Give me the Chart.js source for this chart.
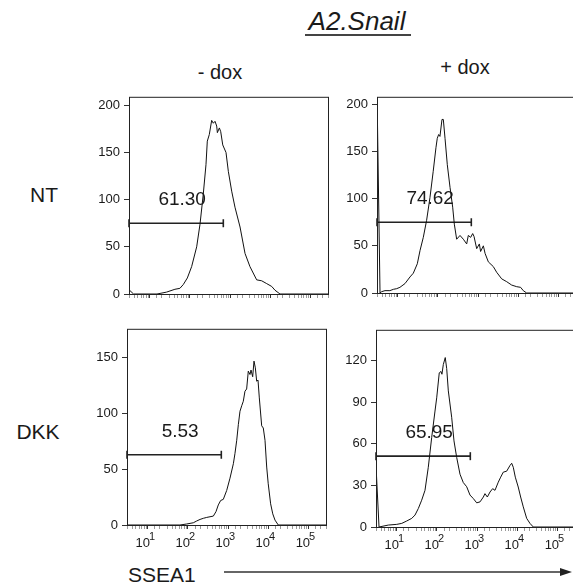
<!DOCTYPE html>
<html>
<head>
<meta charset="utf-8">
<title>A2.Snail SSEA1</title>
<script src="https://cdn.jsdelivr.net/npm/chart.js@4.4.1/dist/chart.umd.min.js"></script>
<style>
  html, body { margin: 0; padding: 0; background: #fff; }
  body {
    width: 573px; height: 588px; position: relative; overflow: hidden;
    font-family: "Liberation Sans", Arial, sans-serif; color: #1a1a1a;
  }
  .lbl { position: absolute; white-space: nowrap; line-height: 1; }
  .c { transform: translateX(-50%); }
  canvas { position: absolute; }
</style>
</head>
<body>

<div class="lbl c" style="left:357px; top:8px; font-size:26px; font-style:italic;">A2.Snail</div>
<div style="position:absolute; left:305px; top:34px; width:106px; height:2px; background:#444;"></div>

<div class="lbl c" id="col0" style="left:220px; top:62px; font-size:20px;"></div>
<div class="lbl c" id="col1" style="left:465px; top:57px; font-size:20px;"></div>
<div class="lbl c" id="row0" style="left:44px; top:184px; font-size:21px;"></div>
<div class="lbl c" id="row1" style="left:38px; top:421px; font-size:21px;"></div>
<div class="lbl" id="xTitle" style="left:128px; top:564px; font-size:21px;"></div>

<svg style="position:absolute; left:220px; top:564px;" width="353" height="16">
  <line x1="4" y1="8" x2="345" y2="8" stroke="#333" stroke-width="1.3"/>
  <polygon points="340,4 352,8 340,12" fill="#222"/>
</svg>

<script>
// ---- data ----
const colLabels = ['- dox', '+ dox'];
const rowLabels = ['NT', 'DKK'];
const axisTitle = 'SSEA1';

// NT, - dox
const ntMinusX = [3.1, 3.9, 15, 26, 42, 56, 68, 86, 110, 147, 178, 215, 251, 271, 304, 348, 383, 422, 465, 483, 542, 586, 658, 794, 908, 1100, 1330, 1780, 2370, 3150, 4630, 6180, 8240, 11000, 13300, 17700, 280000];
const ntMinusY = [4, 0, 0, 2, 5, 6, 10, 17, 29, 50, 74, 106, 137, 162, 169, 184, 181, 183, 178, 171, 176, 172, 158, 150, 130, 109, 92, 71, 43, 29, 15, 14, 11, 8, 4, 0, 0];

// NT, + dox
const ntPlusX = [3.05, 3.57, 3.92, 4.75, 6.3, 7.7, 9.3, 11.2, 15, 20, 24.2, 30.5, 35.6, 43, 52, 63, 76, 89, 96, 104, 112, 126, 136, 150, 171, 200, 233, 256, 293, 355, 430, 521, 572, 656, 736, 794, 927, 1080, 1160, 1360, 1500, 1810, 2410, 2920, 3900, 5200, 6930, 9250, 11600, 13500, 16400, 280000];
const ntPlusY = [194, 0, 1.4, 2.5, 2.5, 3.9, 4.6, 6, 10, 17, 21, 31, 45, 59, 77, 101, 129, 154, 164, 168, 166, 184, 184, 164, 136, 112, 91, 73, 57, 61, 57, 52, 61, 59, 63, 60, 47, 52, 44, 50, 42, 33, 28, 22, 15, 12, 8.4, 6.7, 6, 2.5, 0, 0];

// DKK, - dox
const dkkMinusX = [3, 63, 93, 136, 165, 200, 242, 294, 355, 430, 501, 572, 656, 762, 927, 1120, 1360, 1490, 1650, 1810, 1990, 2200, 2410, 2650, 2920, 3210, 3540, 3750, 4130, 4460, 4810, 5200, 5610, 6050, 6930, 7600, 8390, 9250, 10100, 11600, 13100, 14900, 18000, 280000];
const dkkMinusY = [0, 0, 0.9, 2, 3.6, 5, 6, 6.8, 7.4, 8, 12, 18, 22, 23, 31, 42, 55, 64, 76, 90, 102, 107, 111, 120, 122, 138, 135, 139, 133, 147, 141, 129, 130, 114, 89, 87, 76, 52, 37, 19, 10, 4.4, 0, 0];

// DKK, + dox
const dkkPlusX = [3.05, 3.57, 6.1, 9.9, 13.2, 17.5, 23.4, 28.3, 34.2, 41.5, 50.2, 60.7, 73.8, 89.3, 98.4, 114, 126, 133, 144, 161, 175, 192, 233, 266, 311, 376, 454, 552, 668, 807, 982, 1190, 1440, 1580, 1810, 2110, 2460, 2810, 3400, 3900, 4530, 5500, 6660, 7350, 8050, 9040, 10700, 12300, 14300, 17400, 21000, 25500, 280000];
const dkkPlusY = [40, 0, 1.4, 1.9, 2.6, 4.3, 6.2, 8.6, 13.3, 19.3, 26.4, 43, 64.5, 83.5, 93, 111, 112, 110, 117, 122, 114, 98, 79, 62, 50, 38, 32, 29, 23, 20.5, 17.4, 18.1, 21.6, 24, 21.6, 25.2, 27.6, 26.4, 32.3, 35.9, 39.5, 40.2, 44.3, 45.9, 43, 35.9, 28.8, 21.6, 14.5, 6.2, 2.6, 0, 0];

// gates
const gateLabels = ['61.30', '74.62', '5.53', '65.95'];
const gateLevels = [75, 75, 63, 51];
const gateRange = [3, 680];

// axes
const xRange = [3, 280000];
const xTickExponents = [1, 2, 3, 4, 5];
const yMaxes = [209, 208, 176, 142];
const yTicksNtMinus = [0, 50, 100, 150, 200];
const yTicksNtPlus = [0, 50, 100, 150, 200];
const yTicksDkkMinus = [0, 50, 100, 150];
const yTicksDkkPlus = [0, 30, 60, 90, 120];

// ---- layout ----
const panels = [
    { xs: ntMinusX,  ys: ntMinusY,  yTicks: yTicksNtMinus,  left: 129, top: 95,  w: 199, h: 199, xLabels: false },
    { xs: ntPlusX,   ys: ntPlusY,   yTicks: yTicksNtPlus,   left: 377, top: 95,  w: 199, h: 198, xLabels: false },
    { xs: dkkMinusX, ys: dkkMinusY, yTicks: yTicksDkkMinus, left: 127, top: 327, w: 199, h: 198, xLabels: true },
    { xs: dkkPlusX,  ys: dkkPlusY,  yTicks: yTicksDkkPlus,  left: 376, top: 328, w: 199, h: 199, xLabels: true }
];

const FONT = '"Liberation Sans", Arial, sans-serif';
const AXIS_W = 50, PAD_T = 10, PAD_R = 10, AXIS_H = 30;

document.getElementById('col0').textContent = colLabels[0];
document.getElementById('col1').textContent = colLabels[1];
document.getElementById('row0').textContent = rowLabels[0];
document.getElementById('row1').textContent = rowLabels[1];
document.getElementById('xTitle').textContent = axisTitle;

Chart.defaults.font.family = FONT;
Chart.defaults.color = '#1a1a1a';

// frame, gate number and 10^n labels
const panelDeco = {
    id: 'panelDeco',
    afterDraw(chart, args, opts) {
        const ctx = chart.ctx;
        const a = chart.chartArea;
        const x = chart.scales.x, y = chart.scales.y;
        ctx.save();
        ctx.strokeStyle = '#222';
        ctx.lineWidth = 1;
        ctx.strokeRect(a.left + 0.5, a.top + 0.5, a.right - a.left, a.bottom - a.top);

        // gate value above the gate bar
        const gx = (x.getPixelForValue(gateRange[0]) + x.getPixelForValue(gateRange[1])) / 2 + 6;
        const gy = y.getPixelForValue(opts.level);
        ctx.fillStyle = '#1a1a1a';
        ctx.font = '19px ' + FONT;
        ctx.textAlign = 'center';
        ctx.textBaseline = 'alphabetic';
        ctx.fillText(opts.label, gx, gy - 18);

        if (opts.xLabels) {
            xTickExponents.forEach(n => {
                const px = x.getPixelForValue(Math.pow(10, n));
                ctx.font = '13px ' + FONT;
                ctx.textAlign = 'right';
                ctx.fillText('10', px + 2, a.bottom + 22);
                ctx.font = '11px ' + FONT;
                ctx.textAlign = 'left';
                ctx.fillText(String(n), px + 1, a.bottom + 15);
            });
        }
        ctx.restore();
    }
};

panels.forEach((p, i) => {
    const cv = document.createElement('canvas');
    cv.width = AXIS_W + p.w + PAD_R;
    cv.height = PAD_T + p.h + AXIS_H;
    cv.style.left = (p.left - AXIS_W) + 'px';
    cv.style.top = (p.top - PAD_T) + 'px';
    document.body.appendChild(cv);

    new Chart(cv, {
        type: 'line',
        data: {
            datasets: [
                {
                    data: p.xs.map((v, k) => ({ x: v, y: p.ys[k] })),
                    borderColor: '#111',
                    borderWidth: 1,
                    pointRadius: 0,
                    tension: 0,
                    fill: false
                },
                {
                    data: gateRange.map(v => ({ x: v, y: gateLevels[i] })),
                    borderColor: '#222',
                    borderWidth: 1.6,
                    pointStyle: 'line',
                    rotation: 90,
                    pointRadius: 4,
                    pointBorderWidth: 1.6,
                    pointBorderColor: '#222',
                    clip: false
                }
            ]
        },
        options: {
            responsive: false,
            animation: false,
            devicePixelRatio: 1,
            layout: { padding: { left: 0, top: PAD_T, right: PAD_R, bottom: 0 } },
            plugins: {
                legend: { display: false },
                tooltip: { enabled: false },
                panelDeco: { label: gateLabels[i], level: gateLevels[i], xLabels: p.xLabels }
            },
            scales: {
                x: {
                    type: 'logarithmic',
                    min: xRange[0],
                    max: xRange[1],
                    afterFit: s => { s.height = AXIS_H; },
                    border: { display: false },
                    grid: {
                        drawOnChartArea: false,
                        tickLength: 4,
                        tickColor: c => (c.tick && c.tick.major) ? '#333' : '#9a9a9a'
                    },
                    ticks: { autoSkip: false, maxRotation: 0, major: { enabled: true }, callback: () => '' }
                },
                y: {
                    type: 'linear',
                    min: 0,
                    max: yMaxes[i],
                    afterFit: s => { s.width = AXIS_W; },
                    afterBuildTicks: s => { s.ticks = p.yTicks.map(v => ({ value: v })); },
                    border: { display: false },
                    grid: { drawOnChartArea: false, tickLength: 5, color: '#333' },
                    ticks: { font: { size: 13 }, color: '#1a1a1a', padding: 4 }
                }
            }
        },
        plugins: [panelDeco]
    });
});
</script>
</body>
</html>
